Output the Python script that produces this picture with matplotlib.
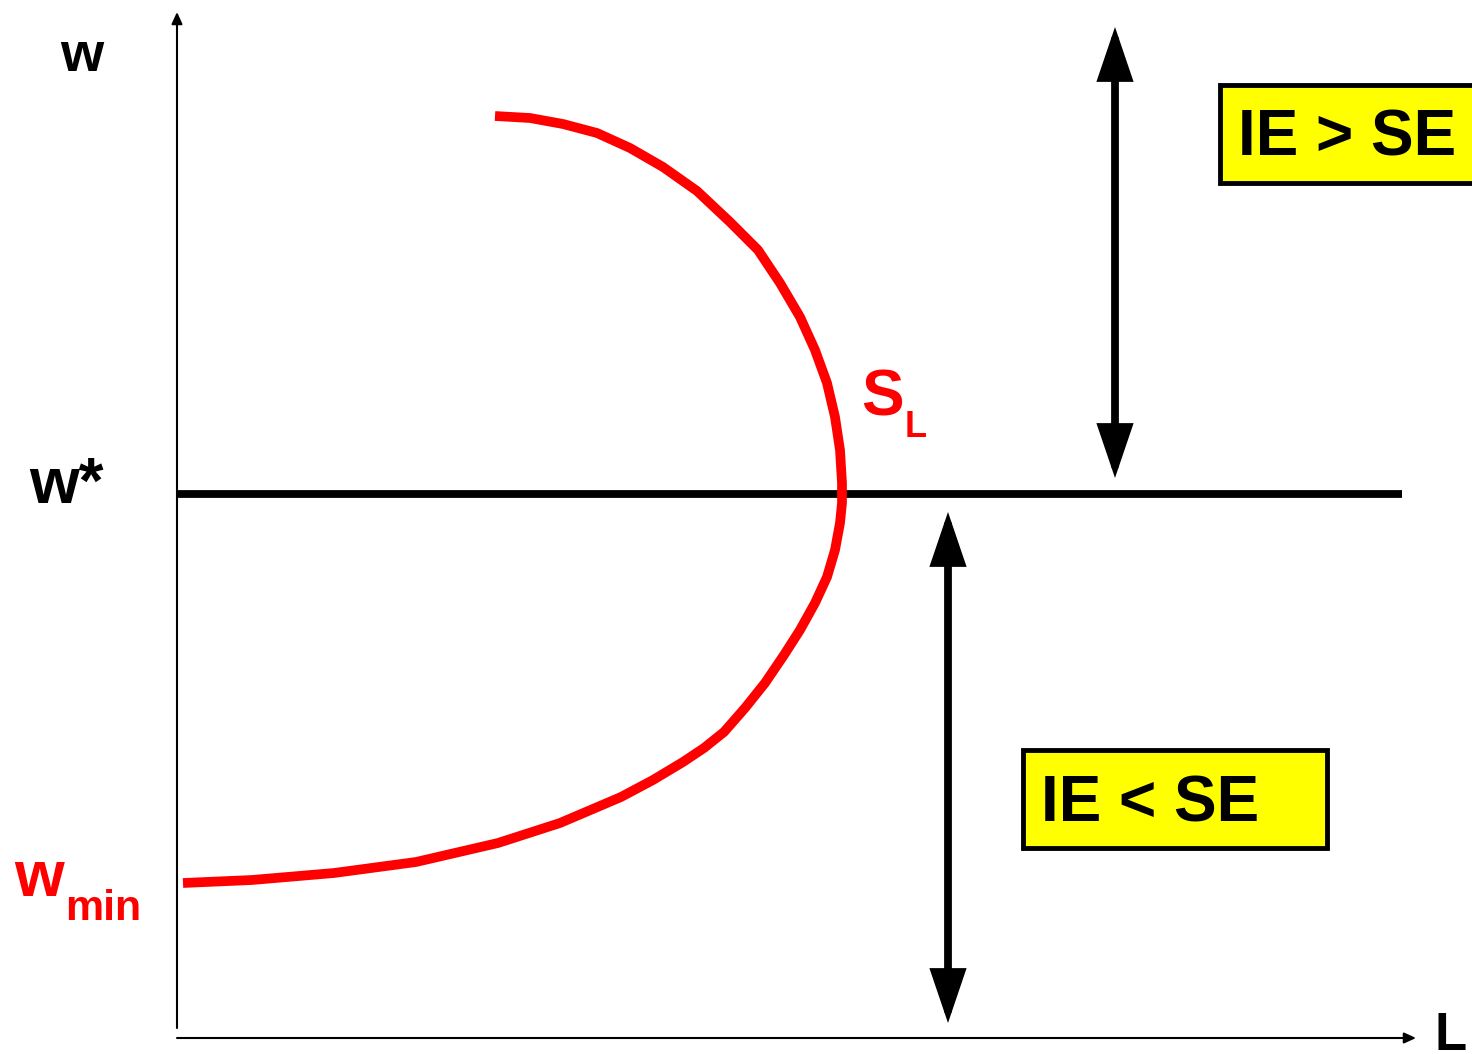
import matplotlib
matplotlib.use("Agg")
import matplotlib.pyplot as plt
from matplotlib.patches import FancyArrowPatch, Rectangle, ArrowStyle

plt.rcParams['font.family'] = ['Liberation Sans', 'DejaVu Sans']

# ---- data (L = labour, w = wage) ----
supply_L = [318, 353, 386, 420, 453, 486, 520, 553, 581, 603, 623, 638, 650,
            658, 663, 665, 665, 663, 658, 650, 638, 623, 607, 588, 568, 547, 527,
            506, 476, 444, 383, 321, 239, 157, 75, 6]
supply_w = [922, 920, 914, 905, 890, 871, 847, 816, 788, 755, 721, 688, 655,
            621, 588, 555, 535, 515, 488, 461, 435, 408, 383, 355, 330, 306, 290,
            276, 258, 241, 215, 195, 176, 165, 158, 155]
w_star = 544
w_star_L = [0, 1225]

axis_bottom = 10
axis_top = 1026
axis_right = 1239

arrow_up_L = 938
arrow_up_w = [560, 1011]
arrow_down_L = 771
arrow_down_w = [15, 526]

box_ie_gt = dict(L=1043, w=855, width=300, height=98, text="IE > SE", tx=1061, tw=882)
box_ie_lt = dict(L=846, w=190, width=304, height=98, text="IE < SE", tx=864, tw=217)

RED = "#ff0000"

fig = plt.figure(figsize=(14.72, 10.54), dpi=100)
ax = fig.add_axes([0, 0, 1, 1])
ax.set_xlim(-177, 1295)
ax.set_ylim(-16, 1038)
ax.axis('off')

# axes with arrow heads
ax.add_patch(FancyArrowPatch((0, axis_bottom), (0, axis_top),
                             arrowstyle=ArrowStyle('-|>', head_length=7, head_width=3.2),
                             mutation_scale=1, lw=1.5, color='black', shrinkA=0, shrinkB=0))
ax.add_patch(FancyArrowPatch((0, 0), (axis_right, 0),
                             arrowstyle=ArrowStyle('-|>', head_length=7, head_width=3.2),
                             mutation_scale=1, lw=1.5, color='black', shrinkA=0, shrinkB=0))

# w* line
ax.plot(w_star_L, [w_star, w_star], color='black', lw=5.6, solid_capstyle='butt', zorder=3)

# supply curve
ax.plot(supply_L, supply_w, color=RED, lw=7.0, solid_capstyle='butt',
        solid_joinstyle='round', zorder=4)

# double arrows
for Lx, ws in [(arrow_up_L, arrow_up_w), (arrow_down_L, arrow_down_w)]:
    ax.add_patch(FancyArrowPatch((Lx, ws[0]), (Lx, ws[1]),
                                 arrowstyle=ArrowStyle('<|-|>', head_length=28, head_width=9.5),
                                 mutation_scale=1, lw=5.6, color='black', shrinkA=0, shrinkB=0,
                                 joinstyle='miter'))

# boxes
for b in (box_ie_gt, box_ie_lt):
    ax.add_patch(Rectangle((b['L'], b['w']), b['width'], b['height'], facecolor='#ffff00',
                           edgecolor='black', lw=3.5, zorder=5))
    ax.text(b['tx'], b['tw'], b['text'], fontsize=46, fontweight='bold', color='black',
            va='baseline', ha='left', zorder=6)

# labels
ax.text(-117, 967, "w", fontsize=40, fontweight='bold', va='baseline', ha='left')
ax.text(-148, 535, "w*", fontsize=46, fontweight='bold', va='baseline', ha='left')
ax.text(-163, 142, "w", fontsize=46, fontweight='bold', color=RED, va='baseline', ha='left')
ax.text(-112, 118, "min", fontsize=31, fontweight='bold', color=RED, va='baseline', ha='left')
ax.text(684, 623, "S", fontsize=46, fontweight='bold', color=RED, va='baseline', ha='left')
ax.text(728, 601, "L", fontsize=26, fontweight='bold', color=RED, va='baseline', ha='left')
ax.text(1258, -12, "L", fontsize=38, fontweight='bold', color='black', va='baseline', ha='left')

fig.savefig("out.png", dpi=100)
